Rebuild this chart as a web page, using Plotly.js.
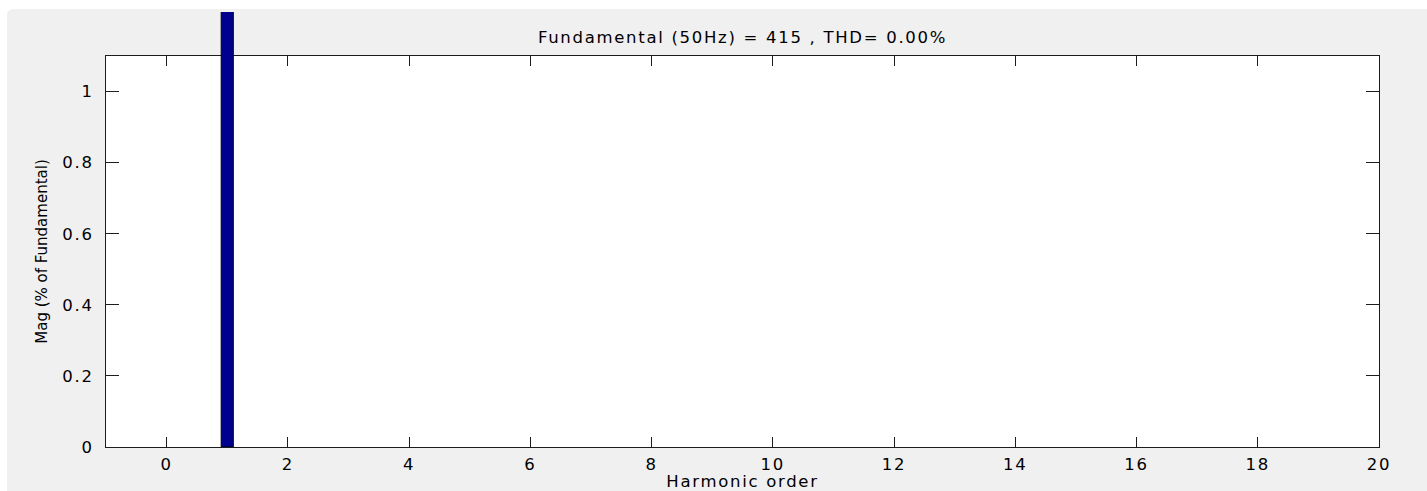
<!DOCTYPE html>
<html>
<head>
<meta charset="utf-8">
<script src="https://cdn.plot.ly/plotly-3.0.1.min.js"></script>
<style>
  html, body { margin: 0; padding: 0; background: #ffffff; }
  #chart { width: 1427px; height: 491px; }
  .gtitle, .xtick text, .ytick text, .xtitle { letter-spacing: 1.7px; }
</style>
</head>
<body>
<div id="chart"></div>
<script>
// ---- data ----
const harmonicOrder = [0, 1, 2, 3, 4, 5, 6, 7, 8, 9, 10, 11, 12, 13, 14, 15, 16, 17, 18, 19, 20];
const magPercent    = [0, 100, 0, 0, 0, 0, 0, 0, 0, 0, 0, 0, 0, 0, 0, 0, 0, 0, 0, 0, 0];
const xTickVals = [0, 2, 4, 6, 8, 10, 12, 14, 16, 18, 20];
const xTickText = ['0', '2', '4', '6', '8', '10', '12', '14', '16', '18', '20'];
const yTickVals = [0, 0.2, 0.4, 0.6, 0.8, 1];
const yTickText = ['0', '0.2', '0.4', '0.6', '0.8', '1'];
const titleText = 'Fundamental (50Hz) = 415 , THD= 0.00%';
const xTitleText = 'Harmonic order';
const yTitleText = 'Mag (% of Fundamental)';

// ---- layout geometry (pixels) ----
const W = 1427, H = 491;
const L = 106, R = 48, T = 12, B = 44;
const axTopPx = 56;
const plotW = W - L - R, plotH = H - T - B;
const mainTop = (H - B - axTopPx) / plotH;
const yMax = 1.1;
const px2x = px => (px - L) / plotW;
const py2y = py => (H - B - py) / plotH;

const fontH = 'DejaVu Sans';
const txtColor = '#000000';
const lineColor = '#1c1c1c';

// rounded-corner gray panel
const gx0 = px2x(7), gy0 = py2y(9), gx1 = px2x(W), gy1 = py2y(H);
const rx = 7 / plotW, ry = 7 / plotH;
const panelPath = `M ${gx0} ${gy1} L ${gx0} ${gy0 - ry} Q ${gx0} ${gy0} ${gx0 + rx} ${gy0} L ${gx1} ${gy0} L ${gx1} ${gy1} Z`;

const traces = [
  { type: 'scatter', x: [], y: [], xaxis: 'x', yaxis: 'y', showlegend: false, hoverinfo: 'skip' },
  {
    type: 'bar',
    x: harmonicOrder,
    y: magPercent,
    xaxis: 'x',
    yaxis: 'y2',
    width: 0.2,
    marker: {
      color: '#00008f',
      line: { color: '#000000', width: magPercent.map(v => (v > 0 ? 1 : 0)) }
    },
    showlegend: false
  }
];

const layout = {
  width: W, height: H,
  margin: { l: L, r: R, t: T, b: B, pad: 0 },
  paper_bgcolor: '#ffffff',
  plot_bgcolor: 'rgba(0,0,0,0)',
  showlegend: false,
  bargap: 0,
  title: {
    text: titleText,
    font: { family: fontH, size: 16.5, color: txtColor },
    xref: 'paper', x: 0.5, xanchor: 'center',
    yref: 'container', y: 1 - 37 / H, yanchor: 'middle'
  },
  xaxis: {
    anchor: 'y',
    range: [-1, 20],
    tickmode: 'array', tickvals: xTickVals, ticktext: xTickText,
    ticks: 'inside', ticklen: 10, tickwidth: 1, tickcolor: lineColor,
    showline: true, linecolor: lineColor, linewidth: 1, mirror: 'ticks',
    showgrid: false, zeroline: false,
    tickfont: { family: fontH, size: 16.5, color: txtColor },
    ticklabelstandoff: 2,
    title: { text: xTitleText, font: { family: fontH, size: 16.5, color: txtColor }, standoff: 2 },
    fixedrange: true
  },
  yaxis: {
    anchor: 'x',
    domain: [0, mainTop],
    range: [0, yMax],
    tickmode: 'array', tickvals: yTickVals, ticktext: yTickText,
    ticks: 'inside', ticklen: 13, tickwidth: 1, tickcolor: lineColor,
    showline: true, linecolor: lineColor, linewidth: 1, mirror: 'ticks',
    showgrid: false, zeroline: false,
    tickfont: { family: fontH, size: 16.5, color: txtColor },
    ticklabelstandoff: 8,
    title: { text: yTitleText, font: { family: fontH, size: 15, color: txtColor }, standoff: 11 },
    fixedrange: true
  },
  yaxis2: {
    anchor: 'x',
    domain: [0, 1],
    range: [0, yMax / mainTop],
    visible: false,
    showgrid: false, zeroline: false,
    fixedrange: true
  },
  shapes: [
    { type: 'path', xref: 'paper', yref: 'paper', path: panelPath, fillcolor: '#f0f0f0', line: { width: 0 }, layer: 'below' },
    { type: 'rect', xref: 'x domain', yref: 'y domain', x0: 0, x1: 1, y0: 0, y1: 1, fillcolor: '#ffffff', line: { width: 0 }, layer: 'below' }
  ]
};

Plotly.newPlot('chart', traces, layout, { staticPlot: true, displayModeBar: false });
</script>
</body>
</html>
